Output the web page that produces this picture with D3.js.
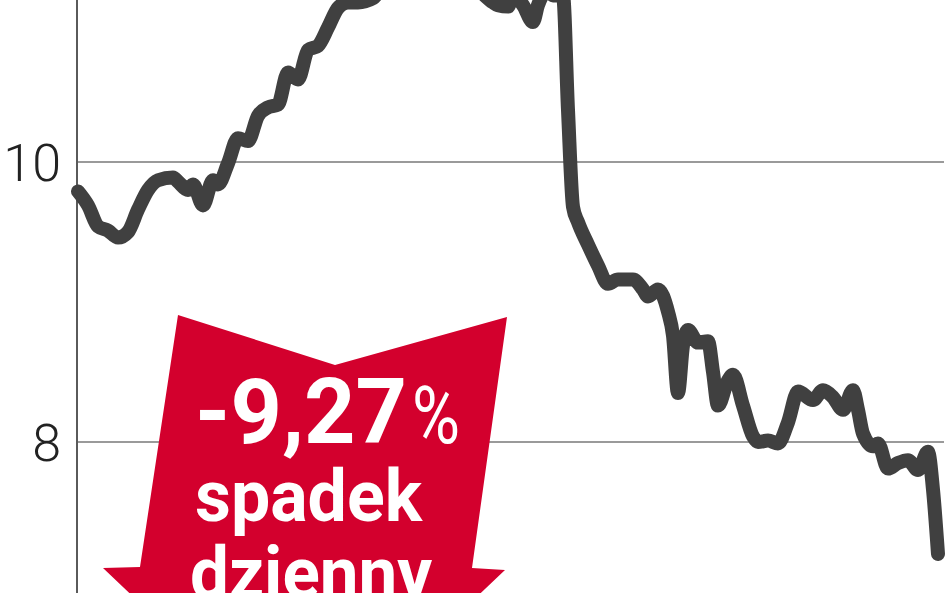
<!DOCTYPE html>
<html><head><meta charset="utf-8">
<script src="https://cdn.jsdelivr.net/npm/d3@7"></script>
<style>html,body{margin:0;padding:0;background:#fff;overflow:hidden}svg{display:block}</style>
</head><body>
<svg id="c" width="948" height="593"></svg>
<script>
// Session index (trading days) and closing price
const sessions = [0,2,4,6,8,10,12,14,16,19,20,22,23,25,27,28,30,32,34,36,38,40,42,44,46,48,50,52,54,56,59,61,64,68,72,76,80,83,84,86,87,89,91,92,94,95,97,98,99,100,102,104,106,108,111,113,114,116,118,119,120,121,122,124,126,127,128,130,131,133,135,136,138,140,142,144,147,149,151,153,155,156,157,159,160,162,164,166,168,170,171,172];
const prices = [9.79,9.69,9.54,9.51,9.46,9.50,9.66,9.80,9.87,9.89,9.86,9.80,9.84,9.69,9.87,9.84,9.99,10.17,10.15,10.33,10.39,10.41,10.64,10.59,10.80,10.83,10.96,11.10,11.14,11.14,11.17,11.26,11.37,11.34,11.41,11.30,11.23,11.14,11.12,11.11,11.19,11.12,11.00,11.12,11.23,11.19,11.19,10.37,9.68,9.57,9.41,9.26,9.13,9.16,9.16,9.09,9.04,9.09,8.93,8.76,8.35,8.69,8.80,8.71,8.72,8.50,8.26,8.44,8.48,8.26,8.04,8.00,8.01,7.99,8.14,8.36,8.30,8.37,8.32,8.23,8.37,8.23,8.06,7.97,7.99,7.81,7.85,7.87,7.80,7.93,7.66,7.20];
const yTicks = [8, 10];
const tickLabels = ["8", "10"];
const badgeLines = ["-9,27", "spadek", "dzienny"];

const svg = d3.select("#c");
const x = d3.scaleLinear().domain([0, 172]).range([78, 938]);
const y = d3.scaleLinear().domain([8, 10]).range([442, 162]);

// gridlines
svg.append("g").selectAll("line").data(yTicks).join("line")
  .attr("x1", 77).attr("x2", 944)
  .attr("y1", d => y(d)).attr("y2", d => y(d))
  .attr("stroke", "#9a9a9a").attr("stroke-width", 2.2);

// y axis line
svg.append("line").attr("x1", 77).attr("x2", 77).attr("y1", 0).attr("y2", 593)
  .attr("stroke", "#5a5a5a").attr("stroke-width", 2);

// tick labels
svg.append("g").selectAll("text").data(yTicks).join("text")
  .attr("x", 61).attr("y", d => y(d) + 19)
  .attr("text-anchor", "end")
  .attr("font-family", "Roboto, 'DejaVu Sans', sans-serif")
  .attr("font-weight", 300).attr("font-size", 52).attr("fill", "#222")
  .text((d, i) => tickLabels[i]);

// red arrow badge
const arrowPts = [[178,315],[335,365],[507,317],[472,568],[505,570],[305,760],[103,568],[140,567]];
svg.append("path")
  .attr("d", d3.line()(arrowPts) + "Z")
  .attr("fill", "#d3002d");

const badge = svg.append("g").attr("fill", "#fff")
  .attr("font-family", "Roboto, 'Liberation Sans', sans-serif").attr("font-weight", 700);
const t1 = badge.append("text").attr("x", 195).attr("y", 443).attr("font-size", 90);
t1.append("tspan").text(badgeLines[0]).attr("textLength", 212).attr("lengthAdjust", "spacingAndGlyphs");
t1.append("tspan").attr("x", 412).attr("font-weight", 400).attr("font-size", 80).text("%")
  .attr("textLength", 48).attr("lengthAdjust", "spacingAndGlyphs");
badge.append("text").attr("x", 195).attr("y", 521).attr("font-size", 72)
  .attr("textLength", 227).attr("lengthAdjust", "spacingAndGlyphs").text(badgeLines[1]);
badge.append("text").attr("x", 190).attr("y", 598).attr("font-size", 72)
  .attr("textLength", 242).attr("lengthAdjust", "spacingAndGlyphs").text(badgeLines[2]);

// price line
svg.append("path")
  .datum(sessions.map((s, i) => [s, prices[i]]))
  .attr("fill", "none").attr("stroke", "#404040").attr("stroke-width", 14)
  .attr("stroke-linejoin", "round").attr("stroke-linecap", "round")
  .attr("d", d3.line().x(d => x(d[0])).y(d => y(d[1])).curve(d3.curveMonotoneX));
</script>
</body></html>
